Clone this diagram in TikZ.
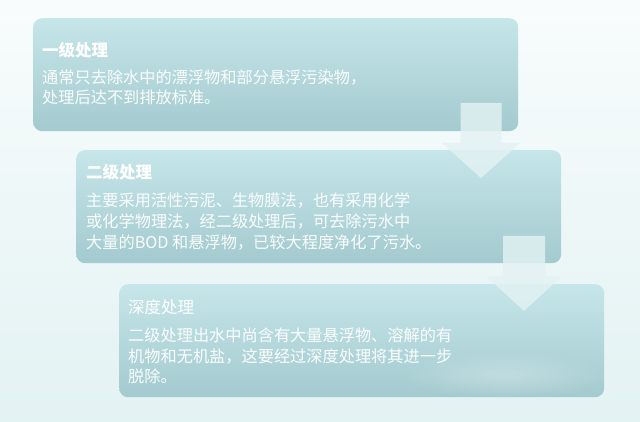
\documentclass[tikz,border=0pt]{standalone}
\usepackage{fontspec}
\newfontfamily\cjk{Noto Sans CJK SC}
\usetikzlibrary{fadings}
\tikzfading[name=softglow, inner color=transparent!0, outer color=transparent!100]
\definecolor{bgtop}{HTML}{F8FCFC}
\definecolor{bgbot}{HTML}{E3F2F3}
\definecolor{boxtop}{HTML}{C6E6E9}
\definecolor{boxbot}{HTML}{A3CACF}
\definecolor{arrowfill}{HTML}{E4F2F3}
\tikzset{
  stagebox/.style={anchor=north west, inner sep=0pt, rounded corners=9pt,
    top color=boxtop, bottom color=boxbot, draw=none,
    minimum width=485pt, minimum height=113pt},
  flowarrow/.style={fill=arrowfill, fill opacity=0.8, draw=none},
  ttl/.style={anchor=base west, inner sep=0pt, text=white, font=\cjk\bfseries\fontsize{16.5}{20}\selectfont},
  ttlplain/.style={anchor=base west, inner sep=0pt, text=white, font=\cjk\fontsize{16.5}{20}\selectfont},
  bodytext/.style={anchor=base west, inner sep=0pt, text=white, text opacity=0.95, font=\cjk\fontsize{16.2}{20}\selectfont},
}
\begin{document}
\begin{tikzpicture}[x=1pt,y=-1pt]
\useasboundingbox (0,0) rectangle (640,422);
\shade[top color=bgtop, bottom color=bgbot] (0,0) rectangle (640,422);

% boxes
\node[stagebox] (box1) at (33,18) {};
\node[stagebox] (box2) at (76,150) {};
\node[stagebox] (box3) at (119,284) {};

% arrows
\coordinate (a1) at (481,103);
\coordinate (a2) at (524,236);
\fill[flowarrow] ([xshift=-20.5pt]a1) -- ([xshift=20.5pt]a1) -- ([xshift=20.5pt,yshift=-40pt]a1)
  -- ([xshift=39pt,yshift=-40pt]a1) -- ([yshift=-75pt]a1) -- ([xshift=-39pt,yshift=-40pt]a1)
  -- ([xshift=-20.5pt,yshift=-40pt]a1) -- cycle;
\fill[flowarrow] ([xshift=-21pt]a2) -- ([xshift=21pt]a2) -- ([xshift=21pt,yshift=-40pt]a2)
  -- ([xshift=38pt,yshift=-40pt]a2) -- ([yshift=-75pt]a2) -- ([xshift=-38pt,yshift=-40pt]a2)
  -- ([xshift=-21pt,yshift=-40pt]a2) -- cycle;

% soft glow
\fill[white, opacity=0.28, path fading=softglow] (505,375) ellipse [x radius=105pt, y radius=24pt];

% texts box 1
\node[ttl] (t1) at (42,57) {一级处理};
\node[bodytext] (b1a) at (42,84) {通常只去除水中的漂浮物和部分悬浮污染物，};
\node[bodytext] (b1b) at (42,104) {处理后达不到排放标准。};

% texts box 2
\node[ttl] (t2) at (86,179) {二级处理};
\node[bodytext] (b2a) at (86,207) {主要采用活性污泥、生物膜法，也有采用化学};
\node[bodytext] (b2b) at (86,228) {或化学物理法，经二级处理后，可去除污水中};
\node[bodytext] (b2c) at (86,248) {大量的BOD 和悬浮物，已较大程度净化了污水。};

% texts box 3
\node[ttlplain] (t3) at (128,313) {深度处理};
\node[bodytext] (b3a) at (128,341) {二级处理出水中尚含有大量悬浮物、溶解的有};
\node[bodytext] (b3b) at (128,362) {机物和无机盐，这要经过深度处理将其进一步};
\node[bodytext] (b3c) at (128,382) {脱除。};
\end{tikzpicture}
\end{document}
